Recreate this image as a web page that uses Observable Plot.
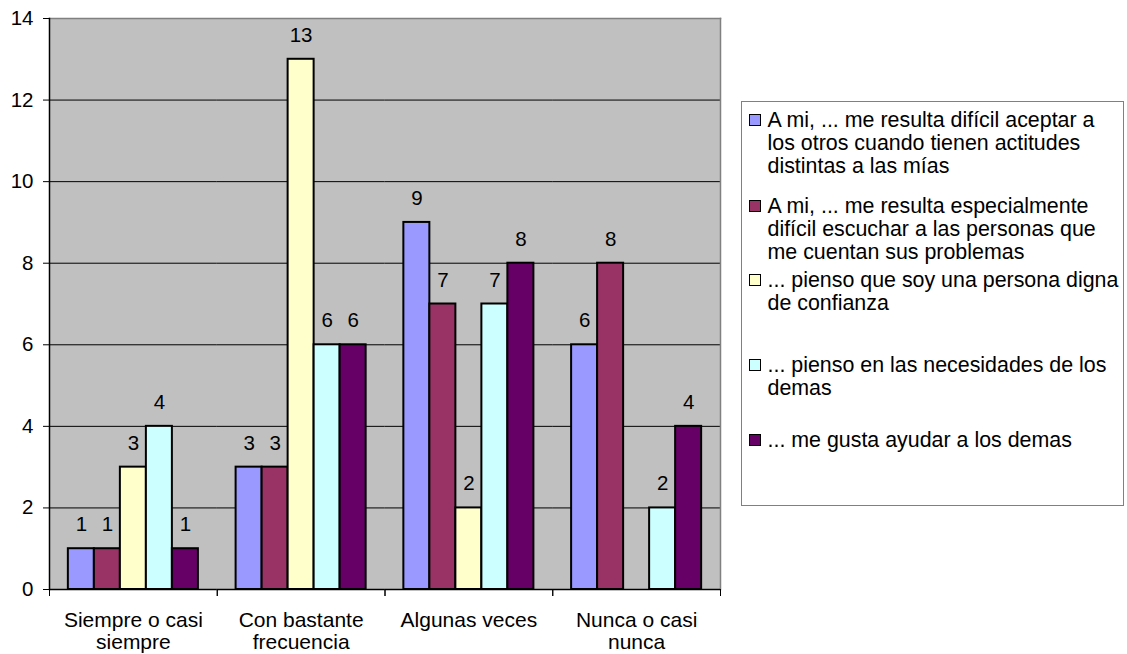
<!DOCTYPE html>
<html>
<head>
<meta charset="utf-8">
<script src="https://cdn.jsdelivr.net/npm/d3@7"></script>
<script src="https://cdn.jsdelivr.net/npm/@observablehq/plot@0.6"></script>
<style>
  body { margin: 0; background: #fff; font-family: "Liberation Sans", Arial, sans-serif; }
  #chart { position: relative; width: 1127px; height: 654px; }
  #chart svg { position: absolute; left: 0; top: 0; }
  #legend {
    position: absolute; left: 741px; top: 101px; width: 383px; height: 405px;
    box-sizing: border-box; border: 1.5px solid #808080; background: #fff;
    padding-top: 7px;
    display: grid; grid-template-rows: 86px 74px 85px 75px auto;
    font-size: 21.4px; line-height: 23px; color: #000;
  }
  .item { position: relative; padding-left: 25.5px; white-space: pre; }
  .swatch {
    position: absolute; left: 7px; top: 5px; width: 12px; height: 12px;
    box-sizing: border-box; border: 1.8px solid #000;
  }
</style>
</head>
<body>
<div id="chart"><div id="legend"></div></div>
<script>
// Response categories (x groups)
const categories = ["Siempre o casi siempre", "Con bastante frecuencia", "Algunas veces", "Nunca o casi nunca"];
const categoryTickLabels = ["Siempre o casi\nsiempre", "Con bastante\nfrecuencia", "Algunas veces", "Nunca o casi\nnunca"];

// Statements (series)
const seriesNames = [
  "A mi, ... me resulta difícil aceptar a los otros cuando tienen actitudes distintas a las mías",
  "A mi, ... me resulta especialmente difícil escuchar a las personas que me cuentan sus problemas",
  "... pienso que soy una persona digna de confianza",
  "... pienso en las necesidades de los demas",
  "... me gusta ayudar a los demas"
];
const legendLabels = [
  "A mi, ... me resulta difícil aceptar a\nlos otros cuando tienen actitudes\ndistintas a las mías",
  "A mi, ... me resulta especialmente\ndifícil escuchar a las personas que\nme cuentan sus problemas",
  "... pienso que soy una persona digna\nde confianza",
  "... pienso en las necesidades de los\ndemas",
  "... me gusta ayudar a los demas"
];
const seriesColors = ["#9999FF", "#993366", "#FFFFCC", "#CCFFFF", "#660066"];

// Counts per category, one array per statement
const aceptarOtros     = [1, 3, 9, 6];
const escucharPersonas = [1, 3, 7, 8];
const dignaConfianza   = [3, 13, 2, 0];
const necesidadesDemas = [4, 6, 7, 2];
const ayudarDemas      = [1, 6, 8, 4];
const seriesValues = [aceptarOtros, escucharPersonas, dignaConfianza, necesidadesDemas, ayudarDemas];

const yTicks = [0, 2, 4, 6, 8, 10, 12, 14];

const rows = [];
seriesNames.forEach((s, j) => {
  categories.forEach((c, i) => rows.push({category: c, series: s, value: seriesValues[j][i]}));
});
const shown = rows.filter(d => d.value > 0);

const W = 1127, H = 654, mT = 18, mB = 65, mL = 49, mR = 407;
const plotH = H - mT - mB;

const chart = Plot.plot({
  width: W, height: H,
  marginLeft: mL, marginRight: mR, marginTop: mT, marginBottom: mB,
  style: {fontFamily: '"Liberation Sans", Arial, sans-serif', fontSize: "20px", color: "#000", background: "transparent", overflow: "visible"},
  fx: {domain: categories, paddingInner: 0, paddingOuter: 0, round: false, label: null},
  x: {domain: seriesNames, paddingInner: 0, paddingOuter: 0.725, round: false, axis: null},
  y: {domain: [0, 14], label: null},
  color: {domain: seriesNames, range: seriesColors},
  marks: [
    // plot area background and gridlines (facets touch, so lines run across)
    Plot.frame({fill: "#C0C0C0", facet: "super"}),
    Plot.ruleY(yTicks.filter(t => t > 0 && t < 14), {stroke: "#000", strokeWidth: 1}),
    Plot.frame({anchor: "top", stroke: "#808080", strokeWidth: 1.5, facet: "super"}),
    Plot.frame({anchor: "right", stroke: "#808080", strokeWidth: 1.5, facet: "super"}),
    // bars and value labels
    Plot.barY(shown, {fx: "category", x: "series", y: "value", fill: "series", stroke: "#000", strokeWidth: 2}),
    Plot.text(shown, {fx: "category", x: "series", y: "value", text: d => String(d.value), dy: -24, fontSize: 20.5, fill: "#000"}),
    // axes
    Plot.frame({anchor: "left", stroke: "#000", strokeWidth: 1.5, facet: "super"}),
    Plot.ruleY([0], {stroke: "#000", strokeWidth: 1.5}),
    Plot.frame({anchor: "left", stroke: "#000", strokeWidth: 1, insetTop: plotH, insetBottom: -6}),
    Plot.frame({anchor: "right", stroke: "#000", strokeWidth: 1, insetTop: plotH, insetBottom: -6}),
    Plot.axisY({ticks: yTicks, tickSize: 6, tickPadding: 10, fontSize: 20.5, label: null}),
    Plot.axisFx({anchor: "bottom", tickSize: 0, tickPadding: 21, fontSize: 21, lineHeight: 1.08, label: null,
      tickFormat: c => categoryTickLabels[categories.indexOf(c)]})
  ]
});
document.getElementById("chart").prepend(chart);

const legend = d3.select("#legend");
seriesNames.forEach((s, j) => {
  const item = legend.append("div").attr("class", "item");
  item.append("div").attr("class", "swatch").style("background", seriesColors[j]);
  item.append("span").text(legendLabels[j]);
});
</script>
</body>
</html>
